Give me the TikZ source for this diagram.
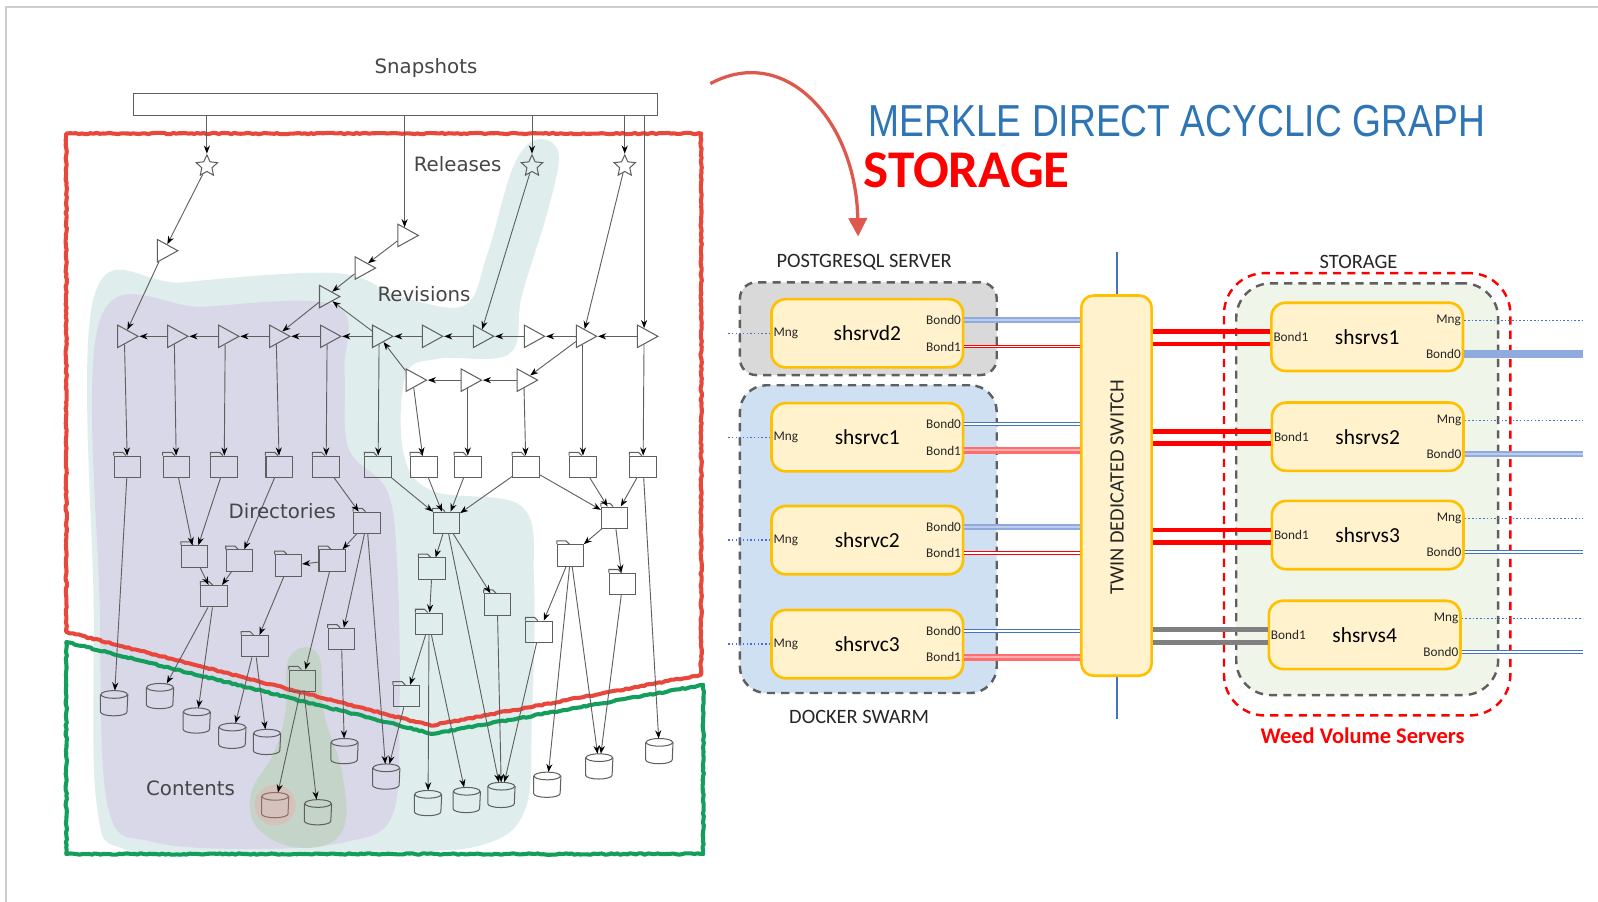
\documentclass[tikz,border=0pt]{standalone}
\usepackage{fontspec}
\setmainfont{DejaVu Sans}
\newfontfamily\libfont{Liberation Sans}
\newfontfamily\carfont{Carlito}
\usetikzlibrary{shapes.geometric,arrows.meta,decorations.pathmorphing,calc}
\definecolor{gcol}{RGB}{95,95,95}
\definecolor{lblcol}{RGB}{70,70,70}
\definecolor{tealbg}{RGB}{223,238,236}
\definecolor{lavbg}{RGB}{216,216,232}
\definecolor{grnbg}{RGB}{196,212,200}
\definecolor{brnbg}{RGB}{214,194,188}
\definecolor{redb}{RGB}{232,72,60}
\definecolor{grnb}{RGB}{20,158,92}
\definecolor{framec}{RGB}{205,205,205}
\definecolor{tblue}{RGB}{46,117,182}
\definecolor{arrred}{RGB}{222,88,78}
\definecolor{yfill}{RGB}{255,242,204}
\definecolor{ydraw}{RGB}{255,192,0}
\definecolor{pgfill}{RGB}{217,217,217}
\definecolor{dkfill}{RGB}{207,224,242}
\definecolor{stfill}{RGB}{239,245,232}
\definecolor{dgray}{RGB}{95,95,95}
\definecolor{lblue}{RGB}{68,114,196}
\definecolor{llblue}{RGB}{143,170,220}
\definecolor{lred}{RGB}{255,110,110}
\definecolor{llred}{RGB}{255,175,175}
\definecolor{brncyl}{RGB}{140,110,100}
\begin{document}
\begin{tikzpicture}[x=0.5pt,y=-0.5pt,
  tri/.style={isosceles triangle, isosceles triangle stretches, shape border rotate=0, draw=gcol, line width=0.5pt, inner sep=0pt, minimum width=11pt, minimum height=10pt},
  strn/.style={star, star points=5, star point ratio=2.1, draw=gcol, line width=0.5pt, inner sep=0pt, minimum size=11pt},
  fold/.style={rectangle, draw=gcol, line width=0.5pt, inner sep=0pt, minimum width=13pt, minimum height=10.5pt},
  cyl/.style={rectangle, inner sep=0pt, minimum width=13pt, minimum height=12pt},
  e/.style={draw=gcol, line width=0.45pt, -{Stealth[length=4pt,width=3pt,color=black]}},
  glabel/.style={font=\fontsize{9.7}{11}\selectfont, text=lblcol, inner sep=0pt},
  rough/.style={line width=2pt, line join=round, decorate, decoration={random steps, segment length=1.5pt, amplitude=0.35pt}},
  srv/.style={rectangle, rounded corners=7pt, draw=ydraw, line width=1.3pt, fill=yfill, minimum width=94pt, minimum height=33.5pt, font=\carfont\fontsize{10.5}{12}\selectfont},
  sml/.style={font=\carfont\fontsize{6.5}{7}\selectfont, inner sep=0.5pt, text=black!85},
  grp/.style={rectangle, draw=dgray, line width=1.2pt, dash pattern=on 4pt off 3pt},
  sect/.style={font=\carfont\fontsize{10}{12}\selectfont, text=black!85},
  bthin/.style={draw=lblue, double=white, line width=0.5pt, double distance=0.9pt},
  bthick/.style={draw=llblue, double=llblue!60, line width=1.1pt, double distance=1pt},
  rthin/.style={draw=red, double=white, line width=0.5pt, double distance=0.9pt},
  rthick/.style={draw=lred, double=llred, line width=1.1pt, double distance=1pt},
  mngline/.style={draw=lblue, line width=0.7pt, dash pattern=on 0.8pt off 1pt}
]
\useasboundingbox (0,0) rectangle (1568,885);
\fill[white] (0,0) rectangle (1568,885);
\draw[framec, line width=0.8pt] (6,885) -- (6,7) -- (1568,7);

% ---------- shaded regions
\fill[tealbg] plot[smooth cycle, tension=0.6] coordinates {(92,292) (180,277) (330,268) (390,290) (455,300) (478,250) (503,165) (526,137) (548,150) (538,205) (512,290) (500,347) (430,352) (398,368) (396,445) (425,482) (512,497) (524,570) (522,700) (515,795) (470,830) (370,836) (250,840) (125,834) (95,790) (92,600)};
\fill[lavbg] plot[smooth cycle, tension=0.6] coordinates {(98,314) (200,301) (330,300) (338,365) (342,440) (380,482) (390,560) (392,700) (385,800) (340,826) (250,833) (150,826) (106,792) (98,600)};
\fill[grnbg] plot[smooth cycle, tension=0.7] coordinates {(284,645) (312,642) (318,700) (336,760) (336,815) (300,832) (256,816) (246,780) (268,740) (280,700)};
\fill[brnbg] (270,790) circle (10pt);

% ---------- red / green borders
\draw[rough, redb] (65,131) -- (688,131) -- (688,662) -- (423,712) -- (65,620) -- cycle;
\draw[rough, grnb] (65,630) -- (425,720) -- (690,672) -- (690,838) -- (65,838) -- cycle;

% ---------- snapshots
\node[glabel] (snaplbl) at (418,67) {Snapshots};
\node[rectangle, draw=gcol, line width=0.6pt, minimum width=257pt, minimum height=10.5pt, inner sep=0pt] (snap) at (388,102.5) {};

% stars
\node[strn] (s1) at (203,163) {};
\node[strn] (s2) at (522,163) {};
\node[strn] (s3) at (613,163) {};
% triangles
\node[tri] (ta) at (161,246) {};
\node[tri] (tb) at (397,231) {};
\node[tri] (tc) at (355,263) {};
\node[tri] (td) at (320,291) {};
\foreach \i/\x in {1/122,2/171,3/221,4/271,5/321,6/372,7/421,8/471,9/521,10/572,11/632}
  \node[tri] (r\i) at (\x,330) {};
\node[tri] (l1) at (405,373) {};
\node[tri] (l2) at (459,373) {};
\node[tri] (l3) at (514,373) {};
% folders
\foreach \i/\x in {1/125,2/173,3/220,4/274,5/320,6/371,7/416,8/459,9/516,10/572,11/631}
  \node[fold] (f\i) at (\x,458) {};
\node[fold] (g1) at (360,513) {};
\node[fold] (g2) at (191,546) {};
\node[fold] (g3) at (235,550) {};
\node[fold] (g4) at (210,585) {};
\node[fold] (g5) at (326,550) {};
\node[fold] (g6) at (283,555) {};
\node[fold] (g7) at (438,513) {};
\node[fold] (g8) at (603,508) {};
\node[fold] (g9) at (560,545) {};
\node[fold] (g10) at (611,573) {};
\node[fold] (g11) at (424,558) {};
\node[fold] (g12) at (488,593) {};
\node[fold] (g13) at (421,612) {};
\node[fold] (g14) at (250,634) {};
\node[fold] (g15) at (335,627) {};
\node[fold] (g16) at (297,668) {};
\node[fold] (g17) at (529,620) {};
\node[fold] (g18) at (399,683) {};
\foreach \n in {f1,f2,f3,f4,f5,f6,f7,f8,f9,f10,f11,g1,g2,g3,g4,g5,g6,g7,g8,g9,g10,g11,g12,g13,g14,g15,g16,g17,g18}
  \draw[gcol, line width=0.5pt] (\n.north west) -- ++(0pt,1.6pt) -- ++(4.5pt,0pt) -- ++(1.6pt,-1.6pt);
% cylinders
\foreach \i/\x/\y in {1/112/690,2/157/683,3/193/707,4/228/722,5/262/728,6/270/790,7/312/797,8/338/737,9/379/762,10/420/788,11/458/785,12/492/780,13/537/770,14/588/752,15/647/737}
  \node[cyl] (c\i) at (\x,\y) {};
\foreach \n/\cc in {c1/gcol,c2/gcol,c3/gcol,c4/gcol,c5/gcol,c6/brncyl,c7/gcol,c8/gcol,c9/gcol,c10/gcol,c11/gcol,c12/gcol,c13/gcol,c14/gcol,c15/gcol} {
  \draw[\cc, line width=0.5pt] ([yshift=-1.9pt]\n.north) ellipse [x radius=6.5pt, y radius=1.9pt];
  \draw[\cc, line width=0.5pt] ([yshift=-1.9pt]\n.north west) -- ([yshift=1.9pt]\n.south west) arc[start angle=180, end angle=360, x radius=6.5pt, y radius=1.9pt] -- ([yshift=-1.9pt]\n.north east);
}

% ---------- graph edges
\draw[e] (snap.south -| s1) -- (s1);
\draw[e] (snap.south -| tb) -- (tb);
\draw[e] (snap.south -| s2) -- (s2);
\draw[e] (snap.south -| s3) -- (s3);
\draw[e] (snap.south -| r11) -- (r11);
\foreach \a/\b in {s1/ta, ta/r1, tb/tc, tc/td, td/r4, r6/td, l1/r6, s2/r8, s3/r10,
  r2/r1, r3/r2, r4/r3, r5/r4, r6/r5, r7/r6, r8/r7, r9/r8, r10/r9, r11/r10,
  l2/l1, l3/l2, r10/l3,
  r1/f1, r2/f2, r3/f3, r4/f4, r5/f5, r6/f6, l1/f7, l2/f8, l3/f9, r10/f10, r11/f11,
  f5/g1, f2/g2, f3/g2, f4/g3, g2/g4, g3/g4, g1/g5, g5/g6, f6/g7, f7/g7, f8/g7, f9/g7,
  f9/g8, f10/g8, f11/g8, g8/g9, g8/g10, g7/g11, g7/g12, g11/g13, g6/g14, g1/g15, g5/g16,
  g9/g17, g13/g18,
  f1/c1, g4/c2, g4/c3, g14/c4, g14/c5, g16/c6, g16/c7, g15/c8, g1/c9, g18/c9, g13/c10,
  g13/c11, g7/c12, g12/c12, g17/c12, g9/c13, g9/c14, g10/c14, f11/c15}
  \draw[e] (\a) -- (\b);

% labels
\node[glabel] (rel) at (449,161) {Releases};
\node[glabel] (rev) at (416,289) {Revisions};
\node[glabel] (dir) at (277,502) {Directories};
\node[glabel] (con) at (187,773) {Contents};

% ---------- title and curved arrow
\node[anchor=west, inner sep=0pt, xscale=0.83, text=tblue, font=\libfont\fontsize{22}{26}\selectfont] (t1) at (852,119) {MERKLE DIRECT ACYCLIC GRAPH};
\node[anchor=west, inner sep=0pt, text=red, font=\carfont\bfseries\fontsize{26}{30}\selectfont] (t2) at (847,167) {STORAGE};
\coordinate (ca) at (697,82);
\coordinate (cb) at (842,232);
\draw[arrred, line width=1.6pt, -{Triangle[length=9pt,width=9pt]}] (ca) .. controls (772,42) and (840,120) .. (cb);

% ---------- left server groups
\node[sect] (pgl) at (848,257) {POSTGRESQL SERVER};
\node[grp, fill=pgfill, rounded corners=8pt, minimum width=126pt, minimum height=45.5pt] (pg) at (852,322.5) {};
\node[grp, fill=dkfill, rounded corners=13pt, minimum width=126pt, minimum height=151pt] (dk) at (852,529) {};
\node[sect] (dkl) at (843,703) {DOCKER SWARM};

% switch
\node[rectangle, rounded corners=6pt, draw=ydraw, line width=1.3pt, fill=yfill, minimum width=34.5pt, minimum height=186.5pt] (sw) at (1095.5,476.5) {};
\node[sect, rotate=90] (swt) at (1096,478) {TWIN DEDICATED SWITCH};
\coordinate (swtop) at (1096,247);
\coordinate (swbot) at (1096,705);
\draw[lblue, line width=0.9pt] (swtop) -- (swtop |- sw.north);
\draw[lblue, line width=0.9pt] (swbot |- sw.south) -- (swbot);

\coordinate (lend) at (713,0);
\coordinate (rend) at (1553,0);
\foreach \n/\t/\y/\sa/\sb in {d2/shsrvd2/327/bthick/rthin, c1/shsrvc1/429/bthin/rthick, c2/shsrvc2/530/bthick/rthin, c3/shsrvc3/632/bthin/rthick} {
  \node[srv] (\n) at (851,\y) {\t};
  \node[sml, anchor=west] (\n-m) at ([xshift=1pt]\n.west) {Mng};
  \node[sml, anchor=east] (\n-b0) at ([xshift=-1pt,yshift=6.5pt]\n.east) {Bond0};
  \node[sml, anchor=east] (\n-b1) at ([xshift=-1pt,yshift=-6.5pt]\n.east) {Bond1};
  \draw[mngline] (\n-m.west -| \n.west) -- (\n-m.west -| lend);
  \draw[\sa] (\n-b0.east -| \n.east) -- (\n-b0.east -| sw.west);
  \draw[\sb] (\n-b1.east -| \n.east) -- (\n-b1.east -| sw.west);
}

% ---------- storage
\node[sect] (stl) at (1333,257) {STORAGE};
\node[rectangle, draw=red, line width=1.2pt, dash pattern=on 4pt off 3pt, rounded corners=20pt, minimum width=140.5pt, minimum height=217pt] (wv) at (1341.5,485) {};
\node[grp, fill=stfill, rounded corners=17pt, minimum width=128.5pt, minimum height=202pt] (st) at (1341.5,480) {};
\node[font=\carfont\bfseries\fontsize{11}{13}\selectfont, text=red] (wvl) at (1337,722) {Weed Volume Servers};
\foreach \n/\t/\x/\y/\bc in {s1/shsrvs1/1341.5/330.5/red, s2/shsrvs2/1342/428.5/red, s3/shsrvs3/1342/525/red, s4/shsrvs4/1339/623/gray} {
  \node[srv] (\n) at (\x,\y) {\t};
  \node[sml, anchor=west] (\n-b1) at ([xshift=1pt]\n.west) {Bond1};
  \node[sml, anchor=east] (\n-m) at ([xshift=-1pt,yshift=8pt]\n.east) {Mng};
  \node[sml, anchor=east] (\n-b0) at ([xshift=-1pt,yshift=-8.5pt]\n.east) {Bond0};
  \coordinate (\n-u) at ($(\n.west)+(0,-5)$);
  \coordinate (\n-d) at ($(\n.west)+(0,7)$);
  \draw[draw=\bc, line width=2.4pt] (\n-u -| sw.east) -- (\n-u);
  \draw[draw=\bc, line width=2.4pt] (\n-d -| sw.east) -- (\n-d);
  \draw[mngline] (\n-m.east -| \n.east) -- (\n-m.east -| rend);
}
\draw[draw=llblue, line width=3.6pt] (s1-b0.east -| s1.east) -- (s1-b0.east -| rend);
\draw[bthick] (s2-b0.east -| s2.east) -- (s2-b0.east -| rend);
\draw[bthin] (s3-b0.east -| s3.east) -- (s3-b0.east -| rend);
\draw[bthin] (s4-b0.east -| s4.east) -- (s4-b0.east -| rend);
\end{tikzpicture}
\end{document}
